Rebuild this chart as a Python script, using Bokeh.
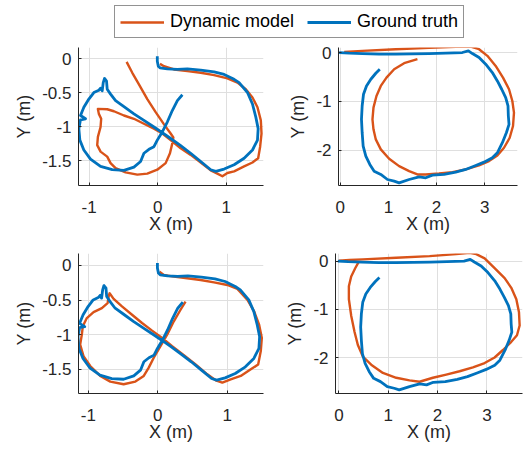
import numpy as np
from bokeh.plotting import figure
from bokeh.models import Range1d, Legend, LegendItem
from bokeh.layouts import column, row
from bokeh.embed import file_html
from bokeh.resources import INLINE

ORANGE = "#D95319"
BLUE = "#0072BD"
FONT = "Liberation Sans"
DARK = "#262626"

series_names = ["Dynamic model", "Ground truth"]

# ---- figure-eight trajectory (left panels) ----
gt8_x = [-0.005, -0.005, 0.01, 0.034, 0.141, 0.288, 0.434, 0.629, 0.824, 0.970, 1.116, 1.189, 1.311, 1.384,
         1.433, 1.467, 1.457, 1.384, 1.262, 1.116, 0.970, 0.848, 0.775, 0.629, 0.482, 0.336, 0.190, 0.068,
         -0.054, -0.200, -0.346, -0.492, -0.614, -0.687, -0.736, -0.746, -0.775, -0.794, -0.809, -0.833,
         -0.858, -0.931, -1.004, -1.077, -1.126, -1.053, -1.126, -1.150, -1.135, -1.077, -0.980, -0.833,
         -0.663, -0.492, -0.346, -0.249, -0.200, -0.127, -0.054, -0.005, 0.068, 0.141, 0.214, 0.288, 0.361]
gt8_y = [0.034, -0.039, -0.111, -0.135, -0.150, -0.159, -0.150, -0.169, -0.193, -0.232, -0.304, -0.353,
         -0.498, -0.667, -0.860, -1.029, -1.198, -1.343, -1.464, -1.560, -1.623, -1.657, -1.633, -1.512,
         -1.391, -1.280, -1.174, -1.087, -1.005, -0.908, -0.812, -0.705, -0.618, -0.522, -0.449, -0.329,
         -0.290, -0.353, -0.473, -0.435, -0.464, -0.498, -0.594, -0.715, -0.836, -0.884, -0.899, -1.029,
         -1.198, -1.343, -1.478, -1.585, -1.633, -1.643, -1.594, -1.512, -1.391, -1.333, -1.295, -1.198,
         -1.077, -0.932, -0.763, -0.618, -0.531]

dyn8_top_x = [0.034, 0.093, 0.239, 0.434, 0.629, 0.824, 1.018, 1.165, 1.287, 1.384, 1.457, 1.506, 1.516,
              1.496, 1.467, 1.384, 1.262, 1.116, 1.018, 0.945, 0.872, 0.775, 0.629, 0.482, 0.336, 0.190,
              0.068, -0.054, -0.200, -0.346, -0.492, -0.638, -0.736, -0.872, -0.858, -0.824, -0.833, -0.872,
              -0.882, -0.833, -0.736, -0.687, -0.614, -0.468, -0.297, -0.151, -0.005, 0.117, 0.180, 0.214,
              0.229, 0.190, 0.093, -0.029, -0.151, -0.273, -0.370, -0.453]
dyn8_top_y = [-0.077, -0.111, -0.159, -0.184, -0.208, -0.242, -0.290, -0.353, -0.449, -0.570, -0.715, -0.908,
              -1.101, -1.295, -1.464, -1.527, -1.585, -1.657, -1.681, -1.729, -1.691, -1.643, -1.527, -1.415,
              -1.319, -1.198, -1.101, -1.029, -0.957, -0.884, -0.836, -0.773, -0.744, -0.739, -0.812, -0.884,
              -1.005, -1.150, -1.271, -1.367, -1.440, -1.536, -1.609, -1.671, -1.705, -1.691, -1.633, -1.536,
              -1.391, -1.246, -1.159, -1.101, -0.966, -0.787, -0.594, -0.377, -0.208, -0.048]

dyn8_bot_x = [0.024, 0.087, 0.231, 0.424, 0.617, 0.810, 1.002, 1.147, 1.292, 1.388, 1.460, 1.499, 1.484,
              1.446, 1.340, 1.195, 1.051, 0.930, 0.834, 0.713, 0.545, 0.376, 0.207, 0.063, -0.082, -0.227,
              -0.371, -0.516, -0.636, -0.694, -0.708, -0.723, -0.805, -0.925, -1.022, -1.080, -1.094, -1.118,
              -1.070, -0.973, -0.829, -0.684, -0.492, -0.323, -0.202, -0.130, -0.058, 0.039, 0.135, 0.231,
              0.328, 0.400]
dyn8_bot_y = [-0.091, -0.139, -0.162, -0.186, -0.210, -0.244, -0.282, -0.339, -0.497, -0.664, -0.855, -1.046,
              -1.237, -1.429, -1.500, -1.596, -1.644, -1.691, -1.658, -1.572, -1.429, -1.295, -1.166, -1.046,
              -0.941, -0.831, -0.712, -0.592, -0.483, -0.401, -0.449, -0.545, -0.616, -0.674, -0.760, -0.879,
              -0.999, -1.142, -1.309, -1.452, -1.596, -1.677, -1.715, -1.677, -1.596, -1.476, -1.333, -1.166,
              -0.999, -0.807, -0.640, -0.521]

# ---- loop trajectory (right panels) ----
gtl_x = [-0.021, 0.187, 0.463, 0.809, 1.154, 1.500, 1.845, 2.191, 2.536, 2.661, 2.744, 2.882, 3.020, 3.158,
         3.262, 3.352, 3.435, 3.483, 3.490, 3.504, 3.449, 3.366, 3.262, 3.158, 2.985, 2.813, 2.605, 2.398,
         2.156, 1.914, 1.776, 1.638, 1.431, 1.223, 1.120, 0.981, 0.843, 0.705, 0.615, 0.532, 0.477, 0.456,
         0.442, 0.456, 0.484, 0.546, 0.636, 0.739, 0.822]
gtl_y = [0.0, -0.014, -0.021, -0.034, -0.034, -0.027, -0.021, -0.014, 0.0, 0.034, -0.021, -0.103, -0.240,
         -0.411, -0.582, -0.753, -0.925, -1.096, -1.301, -1.473, -1.644, -1.849, -2.055, -2.158, -2.247,
         -2.315, -2.397, -2.452, -2.500, -2.514, -2.568, -2.548, -2.603, -2.671, -2.637, -2.603, -2.500,
         -2.432, -2.295, -2.123, -1.918, -1.644, -1.370, -1.096, -0.856, -0.685, -0.548, -0.425, -0.342]

dynl_top_x = [0.083, 0.463, 1.154, 1.845, 2.398, 2.709, 2.882, 3.055, 3.227, 3.379, 3.504, 3.573, 3.607,
              3.587, 3.518, 3.400, 3.262, 3.089, 2.882, 2.605, 2.329, 2.053, 1.776, 1.603, 1.431, 1.223,
              1.016, 0.843, 0.739, 0.691, 0.670, 0.691, 0.753, 0.843, 0.961, 1.120, 1.327, 1.603]
dynl_top_y = [0.014, 0.034, 0.068, 0.096, 0.116, 0.123, 0.068, -0.068, -0.274, -0.514, -0.753, -0.993,
              -1.233, -1.507, -1.747, -1.952, -2.110, -2.226, -2.315, -2.397, -2.452, -2.479, -2.500, -2.500,
              -2.432, -2.329, -2.178, -1.986, -1.781, -1.575, -1.370, -1.130, -0.890, -0.685, -0.514, -0.342,
              -0.219, -0.137]

dynl_bot_x = [0.0, 0.216, 0.486, 1.162, 1.838, 2.378, 2.649, 2.784, 2.953, 3.155, 3.358, 3.493, 3.595,
              3.649, 3.662, 3.608, 3.493, 3.324, 3.155, 2.953, 2.716, 2.446, 2.176, 1.905, 1.635, 1.432,
              1.162, 0.892, 0.655, 0.486, 0.385, 0.318, 0.250, 0.203, 0.203, 0.250, 0.331, 0.405]
dynl_bot_y = [0.007, 0.020, 0.034, 0.068, 0.102, 0.142, 0.169, 0.142, 0.054, -0.149, -0.353, -0.556,
              -0.793, -1.064, -1.336, -1.539, -1.675, -1.844, -2.000, -2.115, -2.203, -2.285, -2.353, -2.420,
              -2.502, -2.475, -2.420, -2.319, -2.149, -1.980, -1.742, -1.471, -1.132, -0.793, -0.522, -0.319,
              -0.149, -0.014]

# ---- ticks ----
x_ticks_8 = [-1, 0, 1]
x_tick_labels_8 = ["-1", "0", "1"]
y_ticks_8 = [-1.5, -1, -0.5, 0]
y_tick_labels_8 = ["-1.5", "-1", "-0.5", "0"]
x_ticks_l = [0, 1, 2, 3]
x_tick_labels_l = ["0", "1", "2", "3"]
y_ticks_l = [-2, -1, 0]
y_tick_labels_l = ["-2", "-1", "0"]


def panel(xr, yr, xt, xtl, yt, ytl, w, h, bl, br, bt, bb):
    p = figure(width=w, height=h, x_range=Range1d(*xr), y_range=Range1d(*yr),
               toolbar_location=None, output_backend="svg",
               min_border_left=bl, min_border_right=br, min_border_top=bt, min_border_bottom=bb)
    p.outline_line_color = None
    p.background_fill_color = "white"
    p.xaxis.ticker = xt
    p.yaxis.ticker = yt
    p.xaxis.major_label_overrides = dict(zip(xt, xtl))
    p.yaxis.major_label_overrides = dict(zip(yt, ytl))
    for ax in (p.xaxis[0], p.yaxis[0]):
        ax.axis_line_color = DARK
        ax.axis_line_width = 1
        ax.major_tick_line_color = DARK
        ax.major_tick_in = 3
        ax.major_tick_out = 0
        ax.minor_tick_line_color = None
        ax.major_label_text_font = FONT
        ax.major_label_text_font_size = "17px"
        ax.major_label_text_color = DARK
        ax.axis_label_text_font = FONT
        ax.axis_label_text_font_size = "18px"
        ax.axis_label_text_font_style = "normal"
        ax.axis_label_text_color = DARK
    p.xaxis.axis_label = "X (m)"
    p.yaxis.axis_label = "Y (m)"
    p.xaxis.major_label_standoff = 15
    p.xaxis.axis_label_standoff = -2
    p.yaxis.major_label_standoff = 7
    p.yaxis.axis_label_standoff = 5
    p.xgrid.grid_line_color = "#dfdfdf"
    p.ygrid.grid_line_color = "#dfdfdf"
    return p


def draw(p, dx, dy, gx, gy):
    p.line(dx, dy, line_color=ORANGE, line_width=2.4, line_join="round")
    p.line(gx, gy, line_color=BLUE, line_width=2.8, line_join="round")


p1 = panel((-1.155, 1.545), (-1.865, 0.164), x_ticks_8, x_tick_labels_8, y_ticks_8, y_tick_labels_8,
           270, 200, 78, 7, 2, 58)
draw(p1, dyn8_top_x, dyn8_top_y, gt8_x, gt8_y)

p2 = panel((-0.035, 3.68), (-2.726, 0.103), x_ticks_l, x_tick_labels_l, y_ticks_l, y_tick_labels_l,
           254, 200, 68, 7, 3, 59)
draw(p2, dynl_top_x, dynl_top_y, gtl_x, gtl_y)

p3 = panel((-1.142, 1.523), (-1.849, 0.172), x_ticks_8, x_tick_labels_8, y_ticks_8, y_tick_labels_8,
           270, 200, 78, 7, 9, 50)
draw(p3, dyn8_bot_x, dyn8_bot_y, gt8_x, gt8_y)

p4 = panel((-0.068, 3.72), (-2.746, 0.156), x_ticks_l, x_tick_labels_l, y_ticks_l, y_tick_labels_l,
           254, 200, 65, 2, 8, 50)
draw(p4, dynl_bot_x, dynl_bot_y, gtl_x, gtl_y)

# ---- shared legend ----
leg = figure(width=524, height=44, x_range=Range1d(0, 1), y_range=Range1d(0, 1),
             toolbar_location=None, output_backend="svg",
             min_border_left=0, min_border_right=0, min_border_top=0, min_border_bottom=0)
leg.axis.visible = False
leg.grid.visible = False
leg.outline_line_color = None
r_dyn = leg.line(np.array([np.nan]), np.array([np.nan]), line_color=ORANGE, line_width=2.4)
r_gt = leg.line(np.array([np.nan]), np.array([np.nan]), line_color=BLUE, line_width=2.8)
legend = Legend(items=[LegendItem(label=series_names[0], renderers=[r_dyn]),
                       LegendItem(label=series_names[1], renderers=[r_gt])],
                location=(114, 6), orientation="horizontal",
                glyph_width=44, glyph_height=16, label_height=16, label_standoff=6,
                spacing=13, padding=5, margin=0,
                label_text_font=FONT, label_text_font_size="18px", label_text_color="black",
                border_line_color=DARK, border_line_width=1, background_fill_color="white",
                background_fill_alpha=1.0)
leg.add_layout(legend)

layout = column(leg, row(p1, p2), row(p3, p4))

with open("out.html", "w") as f:
    f.write(file_html(layout, INLINE))
